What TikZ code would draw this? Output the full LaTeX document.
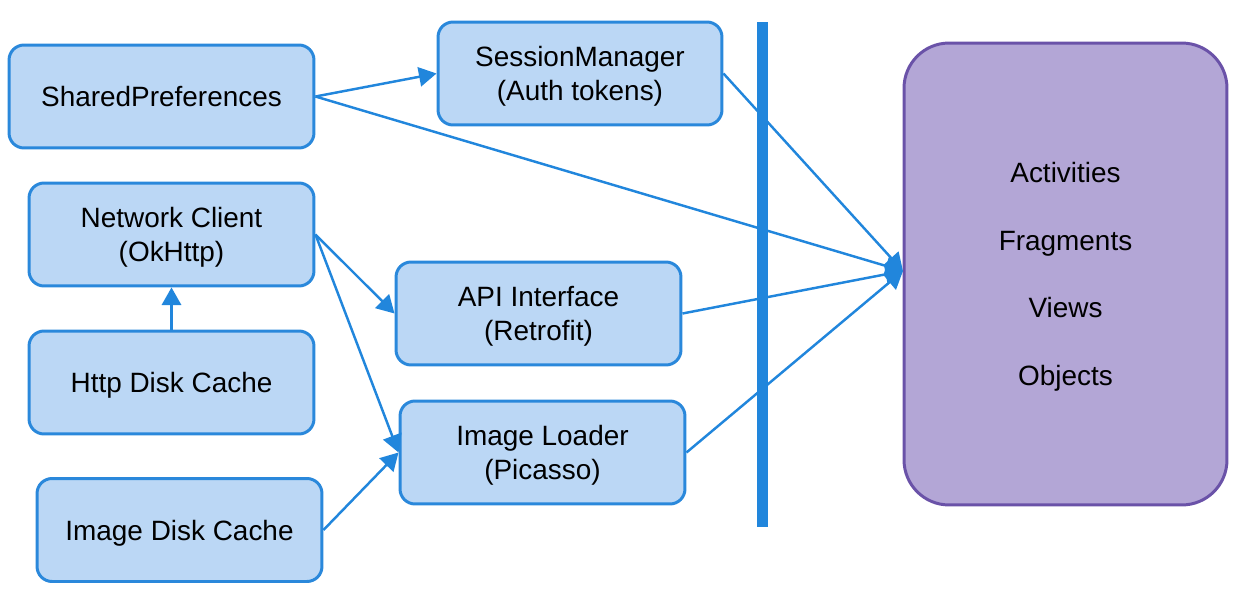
\documentclass[tikz,border=0pt]{standalone}
\usepackage{fontspec}
\setmainfont{Liberation Sans}
\usepackage{xcolor}
\usetikzlibrary{arrows.meta}
\definecolor{boxfill}{HTML}{BBD7F5}
\definecolor{boxline}{HTML}{2A88DB}
\definecolor{linkblue}{HTML}{2186DC}
\definecolor{appfill}{HTML}{B3A6D6}
\definecolor{appline}{HTML}{6A52A8}
\tikzset{
  part/.style={shape=rectangle,rounded corners=0.3cm,draw=boxline,fill=boxfill,
    line width=1.7pt,minimum width=5.7cm,minimum height=2.06cm,align=center,
    text depth=0pt,font=\fontsize{15.9}{19.3}\selectfont},
  link/.style={color=linkblue,line width=1.4pt,-{Triangle[length=10pt,width=11pt]}}
}
\begin{document}
\begin{tikzpicture}[x=0.02cm,y=-0.02cm]
        \useasboundingbox (0,0) rectangle (1242,595);
        \node[part,minimum width=6.1cm] (prefs) at (161.5,96.5){SharedPreferences};
        \node[part,minimum width=5.68cm] (session) at (580,73.5){SessionManager\\(Auth tokens)};
        \node[part] (client) at (171.5,234.5){Network Client\\(OkHttp)};
        \node[part] (httpcache) at (171.5,382.5){Http Disk Cache};
        \node[part] (imgcache) at (179.5,530){Image Disk Cache};
        \node[part] (api) at (538.5,313.5){API Interface\\(Retrofit)};
        \node[part] (loader) at (542.5,452.5){Image Loader\\(Picasso)};
        \node[shape=rectangle,rounded corners=0.9cm,draw=appline,fill=appfill,line width=1.7pt,
          minimum width=6.46cm,minimum height=9.24cm,align=center,text depth=0pt,
          font=\fontsize{15.9}{38.5}\selectfont] (apps) at (1065.5,274){Activities\\Fragments\\Views\\Objects};
        \fill[linkblue] (757,22) rectangle (768,527);
        \coordinate (hub) at (903,271);
        \path (prefs.east) edge[link] (session.west);
        \path (prefs.east) edge[link] (hub);
        \path (session.east) edge[link] (hub);
        \path (api.east) edge[link] (hub);
        \path (loader.east) edge[link] (hub);
        \path (client.east) edge[link] (api.west);
        \path (client.east) edge[link] (loader.west);
        \path (imgcache.east) edge[link] (loader.west);
        \path (httpcache.north) edge[link] (client.south);
    \end{tikzpicture}
\end{document}
